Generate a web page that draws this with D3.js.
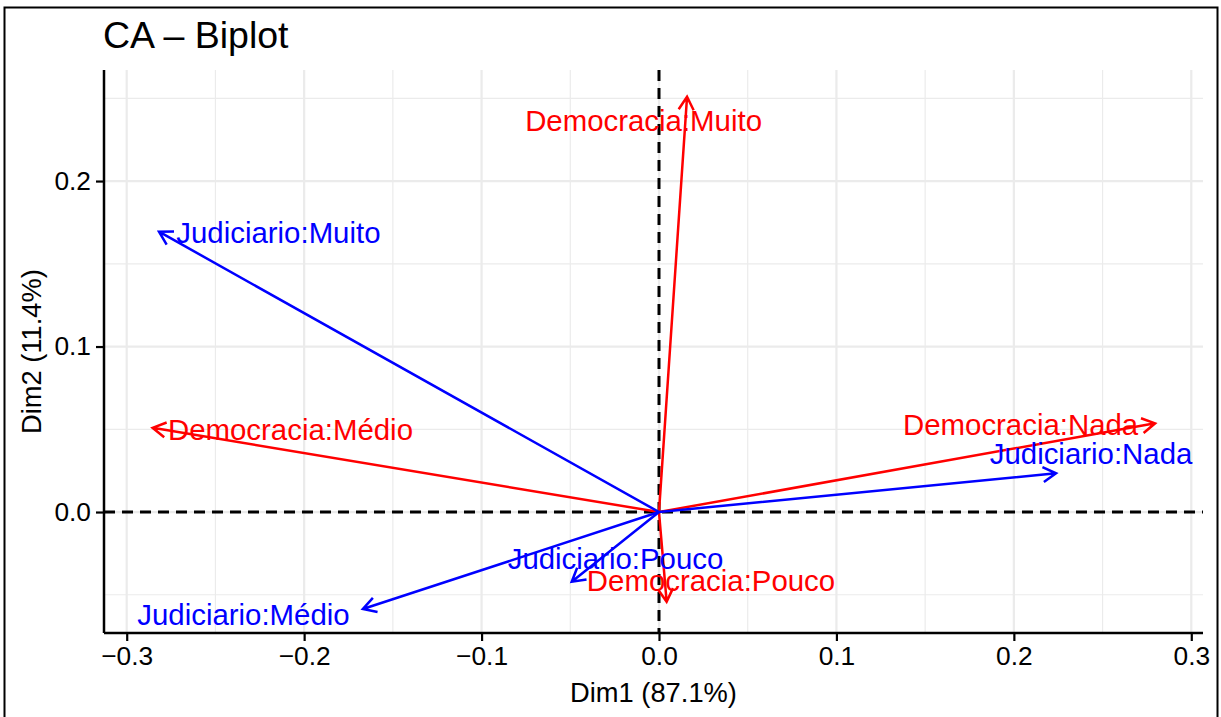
<!DOCTYPE html>
<html>
<head>
<meta charset="utf-8">
<script src="https://cdn.jsdelivr.net/npm/d3@7"></script>
<style>
  html, body { margin: 0; padding: 0; background: #fff; }
  svg { display: block; font-family: "Liberation Sans", Arial, Helvetica, sans-serif; }
</style>
</head>
<body>
<svg id="chart" width="1221" height="717"></svg>
<script>
// Correspondence analysis biplot: row (Democracia) and column (Judiciario) categories
const categories = ["Democracia:Muito", "Democracia:Médio", "Democracia:Nada", "Democracia:Pouco",
                    "Judiciario:Muito", "Judiciario:Médio", "Judiciario:Nada", "Judiciario:Pouco"];
const groups = ["Democracia", "Democracia", "Democracia", "Democracia",
                "Judiciario", "Judiciario", "Judiciario", "Judiciario"];
const dim1 = [0.0158, -0.2854, 0.2796, 0.0043, -0.2818, -0.1669, 0.2238, -0.0492];
const dim2 = [0.2509, 0.0509, 0.0536, -0.0542, 0.1694, -0.0586, 0.0234, -0.0421];
// label anchors (repelled positions, in data units)
const labelDim1 = [-0.0087, -0.2077, 0.2038, 0.0293, -0.2145, -0.2342, 0.2435, -0.0245];
const labelDim2 = [0.2366, 0.0502, 0.0532, -0.0411, 0.1692, -0.0616, 0.0356, -0.0281];
const xTicks = [-0.3, -0.2, -0.1, 0.0, 0.1, 0.2, 0.3];
const yTicks = [0.0, 0.1, 0.2];
const xMinor = [-0.25, -0.15, -0.05, 0.05, 0.15, 0.25];
const yMinor = [-0.05, 0.05, 0.15, 0.25];
const xDomain = [-0.3128, 0.3066];
const yDomain = [-0.0731, 0.2671];

const colour = { Democracia: "#FF0000", Judiciario: "#0000FF" };

const svg = d3.select("#chart");
const panel = { left: 104, right: 1203, top: 70, bottom: 633 };

const x = d3.scaleLinear().domain(xDomain).range([panel.left, panel.right]);
const y = d3.scaleLinear().domain(yDomain).range([panel.bottom, panel.top]);

// outer frame
svg.append("rect").attr("x", 4.5).attr("y", 7.5).attr("width", 1213).attr("height", 716)
  .attr("fill", "#fff").attr("stroke", "#000").attr("stroke-width", 2);

// grid
const grid = svg.append("g");
grid.selectAll(".vminor").data(xMinor).join("line")
  .attr("x1", d => x(d)).attr("x2", d => x(d)).attr("y1", panel.top).attr("y2", panel.bottom)
  .attr("stroke", "#ebebeb").attr("stroke-width", 1.2);
grid.selectAll(".hminor").data(yMinor).join("line")
  .attr("y1", d => y(d)).attr("y2", d => y(d)).attr("x1", panel.left).attr("x2", panel.right)
  .attr("stroke", "#ebebeb").attr("stroke-width", 1.2);
grid.selectAll(".vmajor").data(xTicks).join("line")
  .attr("x1", d => x(d)).attr("x2", d => x(d)).attr("y1", panel.top).attr("y2", panel.bottom)
  .attr("stroke", "#ebebeb").attr("stroke-width", 2.2);
grid.selectAll(".hmajor").data(yTicks).join("line")
  .attr("y1", d => y(d)).attr("y2", d => y(d)).attr("x1", panel.left).attr("x2", panel.right)
  .attr("stroke", "#ebebeb").attr("stroke-width", 2.2);

// reference lines through the origin
svg.append("line").attr("x1", x(0)).attr("x2", x(0)).attr("y1", panel.top).attr("y2", panel.bottom)
  .attr("stroke", "#000").attr("stroke-width", 3).attr("stroke-dasharray", "11,7");
svg.append("line").attr("y1", y(0)).attr("y2", y(0)).attr("x1", panel.left).attr("x2", panel.right)
  .attr("stroke", "#000").attr("stroke-width", 3).attr("stroke-dasharray", "11,7");

// arrows from the origin
const pts = categories.map((c, i) => ({
  name: c, group: groups[i], x: dim1[i], y: dim2[i], lx: labelDim1[i], ly: labelDim2[i]
}));
const headLen = 15, headAng = Math.PI / 6;
const arrows = svg.append("g");
pts.forEach(p => {
  const x0 = x(0), y0 = y(0), x1 = x(p.x), y1 = y(p.y);
  const a = Math.atan2(y1 - y0, x1 - x0);
  const h1 = [x1 - headLen * Math.cos(a - headAng), y1 - headLen * Math.sin(a - headAng)];
  const h2 = [x1 - headLen * Math.cos(a + headAng), y1 - headLen * Math.sin(a + headAng)];
  arrows.append("path")
    .attr("d", `M${x0},${y0}L${x1},${y1}M${h1[0]},${h1[1]}L${x1},${y1}L${h2[0]},${h2[1]}`)
    .attr("fill", "none").attr("stroke", colour[p.group]).attr("stroke-width", 2.5)
    .attr("stroke-linejoin", "miter");
});

// labels
svg.append("g").selectAll("text").data(pts).join("text")
  .attr("x", d => x(d.lx)).attr("y", d => y(d.ly)).attr("dy", "0.36em")
  .attr("text-anchor", "middle").attr("font-size", 29.4)
  .attr("fill", d => colour[d.group]).text(d => d.name);

// axes
const fmt = d3.format(".1f");
const xAxis = svg.append("g").attr("transform", `translate(0,${panel.bottom})`)
  .call(d3.axisBottom(x).tickValues(xTicks).tickFormat(fmt).tickSize(8).tickPadding(5));
const yAxis = svg.append("g").attr("transform", `translate(${panel.left},0)`)
  .call(d3.axisLeft(y).tickValues(yTicks).tickFormat(fmt).tickSize(8).tickPadding(5));
[xAxis, yAxis].forEach(g => {
  g.select(".domain").attr("stroke", "#000").attr("stroke-width", 2.5);
  g.selectAll(".tick line").attr("stroke", "#000").attr("stroke-width", 2.2);
  g.selectAll(".tick text").attr("font-size", 26.3).attr("fill", "#000")
    .attr("font-family", "'Liberation Sans', Arial, sans-serif");
});
xAxis.select(".domain").attr("d", `M${panel.left},0H${panel.right}`);
yAxis.select(".domain").attr("d", `M0,${panel.top}V${panel.bottom}`);

// titles
svg.append("text").attr("x", 103).attr("y", 48).attr("font-size", 37.5).attr("fill", "#000")
  .text("CA – Biplot");
svg.append("text").attr("x", (panel.left + panel.right) / 2).attr("y", 702)
  .attr("text-anchor", "middle").attr("font-size", 27.3).attr("fill", "#000")
  .text("Dim1 (87.1%)");
svg.append("text").attr("transform", `translate(41,${(panel.top + panel.bottom) / 2}) rotate(-90)`)
  .attr("text-anchor", "middle").attr("font-size", 27.3).attr("fill", "#000")
  .text("Dim2 (11.4%)");
</script>
</body>
</html>
